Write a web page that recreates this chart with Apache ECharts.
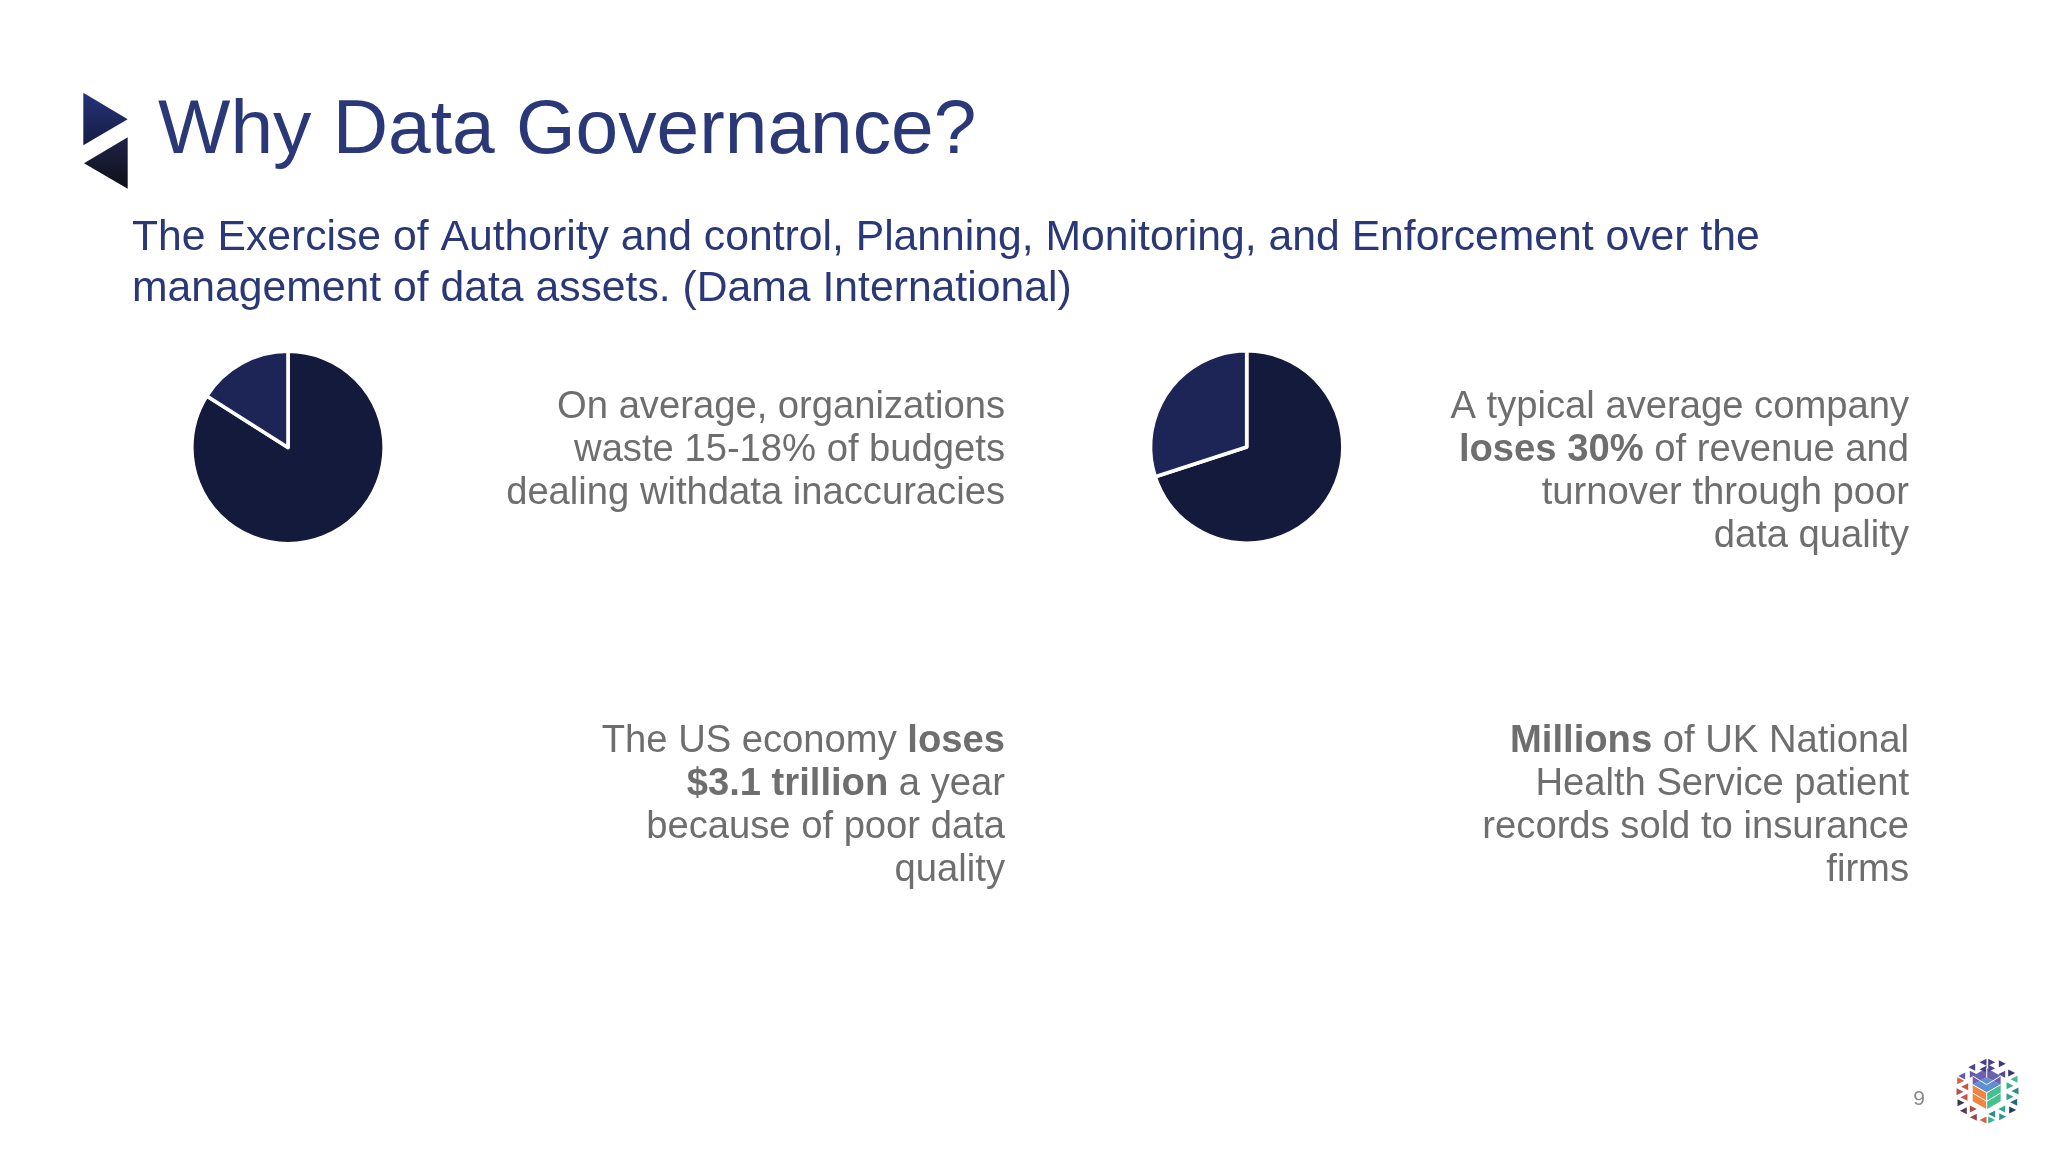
<!DOCTYPE html>
<html><head><meta charset="utf-8">
<style>html,body{margin:0;padding:0;background:#fff}#c{width:2048px;height:1152px}</style>
<script src="https://cdn.jsdelivr.net/npm/echarts@6/dist/echarts.min.js"></script>
</head><body><div id="c"></div>
<script>
const titleText = 'Why Data Governance?';
const subtitleLines = ['The Exercise of Authority and control, Planning, Monitoring, and Enforcement over the','management of data assets. (Dama International)'];
const pieOneNames = ['Wasted budget excluded','Wasted budget'];
const pieOneValues = [84, 16];
const pieTwoNames = ['Revenue retained','Revenue lost'];
const pieTwoValues = [70, 30];
const noteOne = ['On average, organizations','waste 15-18% of budgets','dealing withdata inaccuracies'];
const noteTwo = ['A typical average company','{b|loses 30%} of revenue and','turnover through poor','data quality'];
const noteThree = ['The US economy {b|loses}','{b|$3.1 trillion} a year','because of poor data','quality'];
const noteFour = ['{b|Millions} of UK National','Health Service patient','records sold to insurance','firms'];
const pageNumber = '9';

const FONT = '"Liberation Sans", Arial, sans-serif';
const NAVY = '#2a3878', GREY = '#6e6e6e';

function pie(center, names, values){
  return {type:'pie', center, radius:[0,96.2], startAngle:90, clockwise:true, silent:true,
    label:{show:false}, labelLine:{show:false}, animation:false,
    itemStyle:{borderColor:'#fff', borderWidth:3.6},
    data:names.map((n,i)=>({name:n,value:values[i],itemStyle:{color:i?'#1c2556':'#141a3c'}}))};
}
function note(lines,x,y){
  return {type:'text', x, y, silent:true, style:{
    text:lines.join('\n'), align:'right', verticalAlign:'top',
    font:'38.2px '+FONT, fill:GREY, lineHeight:43,
    rich:{b:{font:'bold 38.2px '+FONT, fill:GREY, lineHeight:43}}}};
}
function tri(points,stops){
  return {type:'polygon', silent:true, shape:{points}, style:{fill:new echarts.graphic.LinearGradient(0,0,0,1,[{offset:0,color:stops[0]},{offset:1,color:stops[1]}])}};
}
const logoBits = [
 [279,67,-1,'#4a3f8a'],[305,67,1,'#45408a'],[337,71,1,'#3b3a80'],[245,82,-1,'#4b4690'],[279,88,-1,'#433d8c'],[305,85,1,'#4b4596'],
 [215,108,-1,'#6a5aa8'],[250,103,1,'#6558a8'],[335,103,-1,'#4f4a98'],[365,99,1,'#34387a'],[372,118,-1,'#45b89a'],
 [212,122,1,'#d8603c'],[224,140,-1,'#c9573f'],[210,155,1,'#b84f55'],[222,172,-1,'#c2574a'],[213,188,1,'#3d3450'],
 [220,212,-1,'#5a3a50'],[250,207,1,'#b54a40'],[250,232,-1,'#96484f'],[279,240,-1,'#d8604a'],[305,240,1,'#35b596'],
 [338,230,1,'#2a9a8a'],[305,222,-1,'#2a8f8a'],[335,207,-1,'#2ea890'],[368,210,1,'#1f3a70'],[371,187,-1,'#1f6a78'],
 [360,170,1,'#2fa68c'],[375,153,-1,'#2a8c82'],[360,137,1,'#35b08e']
];
const logoCells = [
 {pts:[[290,112],[332,134],[290,158],[248,134]],color:'#5f8fd0'},
 {pts:[[290,84],[332,108],[332,134],[290,112],[248,134],[248,108]],color:'#6a62b0'},
 {pts:[[248,134],[290,158],[290,208],[248,184]],color:'#f0853f'},
 {pts:[[332,134],[290,158],[290,208],[332,184]],color:'#45c08e'}
];
const LX = z=>1890+z/3, LY = z=>1040+z/3;
const logo = [];
logoCells.forEach(c=>logo.push({type:'polygon',silent:true,shape:{points:c.pts.map(p=>[LX(p[0]),LY(p[1])])},style:{fill:c.color}}));
logoBits.forEach(b=>{
  const x=LX(b[0]),y=LY(b[1]),s=3.5;
  logo.push({type:'polygon',silent:true,shape:{points:[[x-b[2]*s,y-s],[x+b[2]*s,y],[x-b[2]*s,y+s]]},style:{fill:b[3]}});
});
[[[248,134],[290,158]],[[332,134],[290,158]],[[290,158],[290,208]],[[248,108],[290,134]],[[332,108],[290,134]],[[290,84],[290,112]],[[248,159],[290,184]],[[332,159],[290,184]]].forEach(l=>
  logo.push({type:'line',silent:true,shape:{x1:LX(l[0][0]),y1:LY(l[0][1]),x2:LX(l[1][0]),y2:LY(l[1][1])},style:{stroke:'#fff',lineWidth:1}}));

const chart = echarts.init(document.getElementById('c'),null,{renderer:'canvas'});
chart.setOption({
  backgroundColor:'#fff', animation:false,
  title:[
    {text:titleText,left:158,top:93,padding:0,textStyle:{fontFamily:'Liberation Sans',fontWeight:'normal',fontSize:76.7,color:NAVY}},
    {text:subtitleLines.join('\n'),left:132,top:213,padding:0,textStyle:{fontFamily:'Liberation Sans',fontWeight:'normal',fontSize:42.7,lineHeight:51,color:NAVY}}
  ],
  series:[pie([288,447.5],pieOneNames,pieOneValues),pie([1246.7,447],pieTwoNames,pieTwoValues)],
  graphic:[
    tri([[83.3,92.7],[127.7,119.3],[83.3,145.3]],['#25347a','#161c42']),
    tri([[127.7,137.3],[84,163.3],[127.7,188.7]],['#1c2348','#101018']),
    note(noteOne,1005,386),note(noteTwo,1909,386),note(noteThree,1005,720),note(noteFour,1909,720),
    {type:'text',x:1925,y:1089,silent:true,style:{text:pageNumber,font:'21px '+FONT,fill:'#8a8a8a',align:'right'}},
    ...logo
  ]
});
</script></body></html>
